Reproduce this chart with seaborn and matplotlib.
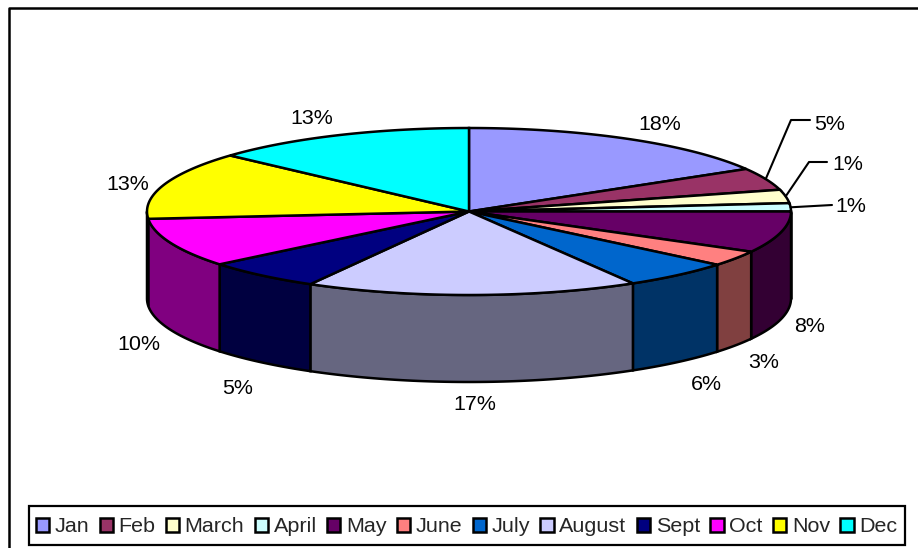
"""
3D style pie of monthly shares, drawn by hand on a pixel-sized axes
because matplotlib has no 3D pie.
"""
import numpy as np
import matplotlib
matplotlib.use("Agg")
import matplotlib.pyplot as plt
from matplotlib.patches import Polygon, Patch, Rectangle
import seaborn as sns

sns.set_theme(style="white")
plt.rcParams["font.family"] = ["Liberation Sans", "DejaVu Sans"]

months = ["Jan", "Feb", "March", "April", "May", "June", "July", "August",
          "Sept", "Oct", "Nov", "Dec"]
# slice sizes as drawn in the picture (the printed labels are rounded)
shares = [16.5, 4.3, 2.6, 1.6, 8.0, 3.0, 5.5, 16.7, 5.9, 9.5, 13.1, 13.3]
printed = [18, 5, 1, 1, 8, 3, 6, 17, 5, 10, 13, 13]
top_colors = ["#9999FF", "#993366", "#FFFFCC", "#CCFFFF", "#660066", "#FF8080",
              "#0066CC", "#CCCCFF", "#000080", "#FF00FF", "#FFFF00", "#00FFFF"]

# layout, all in image pixels
cx, cy, rx, ry, depth = 469, 211.5, 322, 83.5, 87
label_xy = [(660, 124), (830, 124), (848, 164), (851, 207), (810, 326), (764, 362),
            (706, 385), (475, 405), (238, 388), (139, 344), (128, 184), (312, 119)]
leader_mid = {1: [(791, 120), (810, 120)], 2: [(809, 162), (827, 162)], 3: [(832, 205)]}
font_px = 21.5
fs = font_px * 72 / 100

palette = sns.color_palette(top_colors)
edges = np.cumsum([0] + shares) / sum(shares) * 360


def rim(t_deg, drop=0):
    t = np.radians(t_deg)
    return np.column_stack([cx + rx * np.sin(t), cy - ry * np.cos(t) + drop])


fig = plt.figure(figsize=(9.18, 5.48), dpi=100)
ax = fig.add_axes([0, 0, 1, 1])
ax.set_xlim(0, 918)
ax.set_ylim(548, 0)
ax.axis("off")

# chart border, only left and top are inside the image
ax.plot([9, 9, 918], [548, 8, 8], color="black", lw=1.8, solid_capstyle="butt")

# side wall, only the front half of the cylinder shows
for i, color in enumerate(palette):
    a, b = max(edges[i], 90), min(edges[i + 1], 270)
    if b <= a:
        continue
    ts = np.linspace(a, b, 60)
    poly = np.vstack([rim(ts), rim(ts[::-1], depth)])
    dark = tuple(c * 0.5 for c in color)
    ax.add_patch(Polygon(poly, closed=True, facecolor=dark, edgecolor="black", lw=1.8))

# top face
for i, color in enumerate(palette):
    ts = np.linspace(edges[i], edges[i + 1], 60)
    poly = np.vstack([[cx, cy], rim(ts)])
    ax.add_patch(Polygon(poly, closed=True, facecolor=color, edgecolor="black", lw=1.8))

# labels and leaders
for i, val in enumerate(printed):
    ax.text(label_xy[i][0], label_xy[i][1], f"{val}%", fontsize=fs, color="black",
            ha="center", va="center")
    if i in leader_mid:
        start = rim((edges[i] + edges[i + 1]) / 2)[0]
        pts = np.vstack([start, leader_mid[i]])
        ax.plot(pts[:, 0], pts[:, 1], color="black", lw=1.5)

# legend box is drawn apart so its padding can differ from the entry spacing
ax.add_patch(Rectangle((29, 506), 876, 39, facecolor="white", edgecolor="black", lw=1.6))
handles = [Patch(facecolor=c, edgecolor="black", lw=1.8, label=m)
           for m, c in zip(months, palette)]
leg = ax.legend(handles=handles, ncols=12, loc="center", bbox_to_anchor=(466.5, 527),
                bbox_transform=ax.transData, fontsize=fs, frameon=False,
                borderaxespad=0, borderpad=0.3,
                handlelength=0.62, handleheight=0.58, handletextpad=0.26, columnspacing=0.48,
                labelspacing=0)

fig.savefig("out.png", dpi=100)
